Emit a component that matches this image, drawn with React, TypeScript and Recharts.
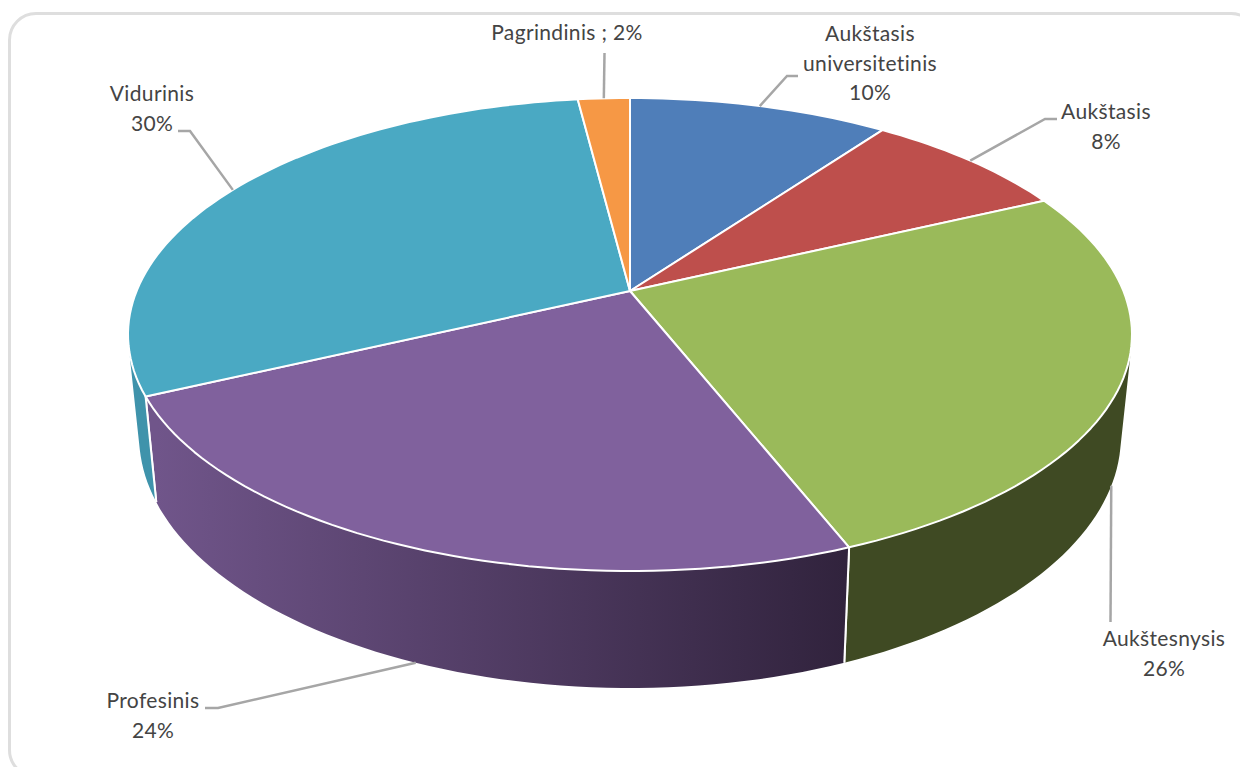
import { Pie, PieChart } from "recharts";

const categories = ["Aukštasis universitetinis", "Aukštasis", "Aukštesnysis", "Profesinis", "Vidurinis", "Pagrindinis"];
const shares = [10, 8, 26, 24, 30, 2];
const topColors = ["#4f7eb9", "#be4f4c", "#9aba5a", "#80619d", "#4aa9c3", "#f69845"];
const wallColors = ["#2f4b70", "#722f2d", "#3f4a23", "url(#purpleWall)", "#3f93ab", "#94591f"];
const labelRows = [
  ["Aukštasis", "universitetinis", "10%"],
  ["Aukštasis", "8%"],
  ["Aukštesnysis", "26%"],
  ["Profesinis", "24%"],
  ["Vidurinis", "30%"],
  ["Pagrindinis ; 2%"],
];

// label placement: text centre, first baseline, leader bends after the anchor on the rim
const labelSpots = [
  { x: 870, y: 41, bends: [[787, 76], [798, 76]], onWall: false },
  { x: 1106, y: 119, bends: [[1045, 119], [1057, 119]], onWall: false },
  { x: 1164, y: 646, bends: [[1110.5, 622]], onWall: true },
  { x: 153, y: 708, bends: [[218, 708], [205, 708]], onWall: true },
  { x: 152, y: 101, bends: [[190, 131], [178, 131]], onWall: false },
  { x: 567, y: 40, bends: [[604.5, 53]], onWall: false },
];

const data = categories.map((name, i) => ({ name, value: shares[i], fill: topColors[i], wall: wallColors[i] }));

const CX = 630;
const CY = 291;
const PERSP = -0.184;
const SCALE_X = 493.4;
const SCALE_Y = 228.5;

// clockwise degrees from 12 o'clock -> point on the tilted top rim
function rim(theta: number) {
  const rad = (theta * Math.PI) / 180;
  const u = Math.sin(rad);
  const v = -Math.cos(rad);
  const d = 1 + PERSP * v;
  return [CX + (SCALE_X * u) / d, CY + (SCALE_Y * v) / d];
}

// same point, on the lower edge of the wall
function floor(p: number[]) {
  return [CX + (p[0] - CX) * 0.978, p[1] + 101.5 + (p[1] - 334.5) * 0.0655];
}

function arc(from: number, to: number) {
  const pts = [];
  const steps = Math.max(2, Math.ceil((to - from) / 1.5));
  for (let i = 0; i <= steps; i++) pts.push(rim(from + ((to - from) * i) / steps));
  return pts;
}

const toPath = (pts: number[][]) => pts.map((p, i) => `${i ? "L" : "M"}${p[0].toFixed(1)} ${p[1].toFixed(1)}`).join(" ") + " Z";

// same winding for every quad, so they merge under the nonzero fill rule
function woundQuad(q: number[][]) {
  let area = 0;
  q.forEach((p, i) => {
    const n = q[(i + 1) % q.length];
    area += p[0] * n[1] - n[0] * p[1];
  });
  return toPath(area < 0 ? [...q].reverse() : q);
}

function TopFace(props: any) {
  const from = 90 - props.startAngle;
  const to = 90 - props.endAngle;
  return <path d={toPath([[CX, CY], ...arc(from, to)])} fill={props.fill} stroke="#fff" strokeWidth={2} strokeLinejoin="round" />;
}

const WALL_FROM = 90;
const WALL_TO = 278;

// the wall is one path of narrow quads so that it also fills the silhouette beside the top ellipse
function WallFace(props: any) {
  const start = 90 - props.startAngle;
  const end = 90 - props.endAngle;
  const from = Math.max(start, WALL_FROM);
  const to = Math.min(end, WALL_TO);
  if (to <= from) return <g />;
  const wall = props.payload?.wall ?? props.wall;
  const top = arc(from, to);
  const edges = [start, end].filter((t) => t >= WALL_FROM && t <= WALL_TO);
  const d = top.slice(1).map((p, i) => woundQuad([top[i], p, floor(p), floor(top[i])])).join(" ");
  return (
    <g>
      <path d={d} fill={wall} fillRule="nonzero" />
      {edges.map((t) => {
        const a = rim(t);
        const b = floor(a);
        return <line key={t} x1={a[0]} y1={a[1]} x2={b[0]} y2={b[1]} stroke="#fff" strokeWidth={2} />;
      })}
    </g>
  );
}

function SliceLabel(props: any) {
  const { index } = props;
  const spot = labelSpots[index];
  const before = shares.slice(0, index).reduce((a, b) => a + b, 0);
  const mid = ((before + shares[index] / 2) / 100) * 360;
  const anchor = spot.onWall ? floor(rim(mid)) : rim(mid);
  const line = [anchor, ...spot.bends].map((p) => p.join(",")).join(" ");
  return (
    <g>
      <polyline points={line} fill="none" stroke="#a6a6a6" strokeWidth={2.5} />
      <text x={spot.x} y={spot.y} textAnchor="middle" fontFamily="Lato" fontSize={21} letterSpacing={0.35} fill="#444">
        {labelRows[index].map((row, i) => (
          <tspan key={row} x={spot.x} dy={i ? 29.5 : 0}>{row}</tspan>
        ))}
      </text>
    </g>
  );
}

export default function App() {
  return (
    <div style={{ position: "fixed", left: 0, top: 0, width: 1240, height: 767, overflow: "hidden", background: "#fff" }}>
      <div style={{ position: "absolute", left: 8, top: 12, width: 1245, height: 760, border: "3px solid #dedede", borderRadius: 28 }} />
      <div style={{ position: "absolute", left: 0, top: 0 }}>
        <PieChart width={1240} height={767} margin={{ top: 0, right: 0, bottom: 0, left: 0 }}>
          <defs>
            <linearGradient id="purpleWall" gradientUnits="userSpaceOnUse" x1={157} y1={0} x2={845} y2={0}>
              <stop offset="0" stopColor="#70558a" />
              <stop offset="1" stopColor="#31233d" />
            </linearGradient>
          </defs>
          <Pie data={data} dataKey="value" cx={CX} cy={CY} outerRadius={200} startAngle={90} endAngle={-270} shape={WallFace} isAnimationActive={false} />
          <Pie data={data} dataKey="value" cx={CX} cy={CY} outerRadius={200} startAngle={90} endAngle={-270} shape={TopFace} label={SliceLabel} labelLine={false} isAnimationActive={false} />
        </PieChart>
      </div>
    </div>
  );
}
